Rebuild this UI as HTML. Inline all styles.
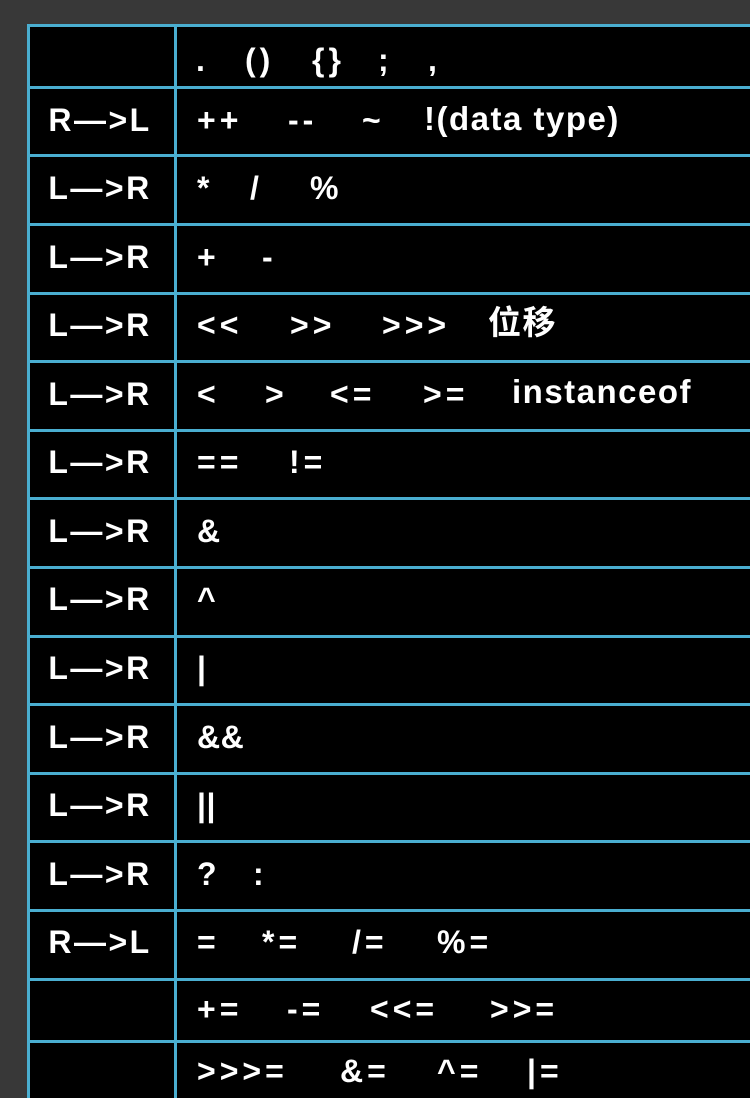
<!DOCTYPE html>
<html style="overflow:hidden"><head><meta charset="utf-8"><style>
html,body{margin:0;padding:0;width:750px;height:1098px;overflow:hidden}
body{background:#383838;position:relative;font-family:"Liberation Sans","Noto Sans CJK SC",sans-serif;font-weight:bold;color:#fff}
.tbl{position:absolute;left:27px;top:24px;width:723px;height:1074px;background:#000;border-left:3px solid #4aaed0;border-top:3px solid #4aaed0;box-sizing:border-box}
.h{position:absolute;left:27px;width:723px;height:3px;background:#4aaed0}
.v{position:absolute;left:174px;top:24px;width:3px;height:1074px;background:#4aaed0}
.t{position:absolute;font-size:32px;line-height:32px;white-space:pre;letter-spacing:4px}
.l{left:25px;width:150px;text-align:center;letter-spacing:2.5px}
.w{letter-spacing:1.5px;font-size:33px}
</style></head><body>
<div class="tbl"></div>
<div class="v"></div>
<div class="h" style="top:86px"></div>
<div class="h" style="top:154px"></div>
<div class="h" style="top:223px"></div>
<div class="h" style="top:292px"></div>
<div class="h" style="top:360px"></div>
<div class="h" style="top:429px"></div>
<div class="h" style="top:497px"></div>
<div class="h" style="top:566px"></div>
<div class="h" style="top:635px"></div>
<div class="h" style="top:703px"></div>
<div class="h" style="top:772px"></div>
<div class="h" style="top:840px"></div>
<div class="h" style="top:909px"></div>
<div class="h" style="top:978px"></div>
<div class="h" style="top:1040px"></div>

<div class="t" style="top:44px;left:196px">.</div>
<div class="t" style="top:44px;left:245px">()</div>
<div class="t" style="top:44px;left:312px">{}</div>
<div class="t" style="top:44px;left:378px">;</div>
<div class="t" style="top:44px;left:428px">,</div>

<div class="t l" style="top:104px">R—&gt;L</div>
<div class="t" style="top:104px;left:197px">++</div>
<div class="t" style="top:104px;left:288px">--</div>
<div class="t" style="top:104px;left:362px">~</div>
<div class="t w" style="top:103px;left:424px">!(data type)</div>

<div class="t l" style="top:172px">L—&gt;R</div>
<div class="t" style="top:172px;left:197px">*</div>
<div class="t" style="top:172px;left:250px">/</div>
<div class="t" style="top:172px;left:310px">%</div>

<div class="t l" style="top:241px">L—&gt;R</div>
<div class="t" style="top:241px;left:197px">+</div>
<div class="t" style="top:241px;left:262px">-</div>

<div class="t l" style="top:309px">L—&gt;R</div>
<div class="t" style="top:309px;left:197px">&lt;&lt;</div>
<div class="t" style="top:309px;left:290px">&gt;&gt;</div>
<div class="t" style="top:309px;left:382px">&gt;&gt;&gt;</div>
<div class="t w" style="top:307px;left:488px">位移</div>

<div class="t l" style="top:378px">L—&gt;R</div>
<div class="t" style="top:378px;left:197px">&lt;</div>
<div class="t" style="top:378px;left:265px">&gt;</div>
<div class="t" style="top:378px;left:330px">&lt;=</div>
<div class="t" style="top:378px;left:423px">&gt;=</div>
<div class="t w" style="top:376px;left:512px">instanceof</div>

<div class="t l" style="top:446px">L—&gt;R</div>
<div class="t" style="top:446px;left:197px">==</div>
<div class="t" style="top:446px;left:289px">!=</div>

<div class="t l" style="top:515px">L—&gt;R</div>
<div class="t" style="top:515px;left:197px">&amp;</div>

<div class="t l" style="top:583px">L—&gt;R</div>
<div class="t" style="top:583px;left:197px">^</div>

<div class="t l" style="top:652px">L—&gt;R</div>
<div class="t" style="top:652px;left:197px">|</div>

<div class="t l" style="top:721px">L—&gt;R</div>
<div class="t" style="top:721px;left:197px;letter-spacing:0.5px">&amp;&amp;</div>

<div class="t l" style="top:789px">L—&gt;R</div>
<div class="t" style="top:789px;left:197px;letter-spacing:0.5px">||</div>

<div class="t l" style="top:858px">L—&gt;R</div>
<div class="t" style="top:858px;left:197px">?</div>
<div class="t" style="top:858px;left:253px">:</div>

<div class="t l" style="top:926px">R—&gt;L</div>
<div class="t" style="top:926px;left:197px">=</div>
<div class="t" style="top:926px;left:262px">*=</div>
<div class="t" style="top:926px;left:352px">/=</div>
<div class="t" style="top:926px;left:437px">%=</div>

<div class="t" style="top:993px;left:197px">+=</div>
<div class="t" style="top:993px;left:287px">-=</div>
<div class="t" style="top:993px;left:370px">&lt;&lt;=</div>
<div class="t" style="top:993px;left:490px">&gt;&gt;=</div>

<div class="t" style="top:1055px;left:197px">&gt;&gt;&gt;=</div>
<div class="t" style="top:1055px;left:340px">&amp;=</div>
<div class="t" style="top:1055px;left:437px">^=</div>
<div class="t" style="top:1055px;left:527px">|=</div>
</body></html>
